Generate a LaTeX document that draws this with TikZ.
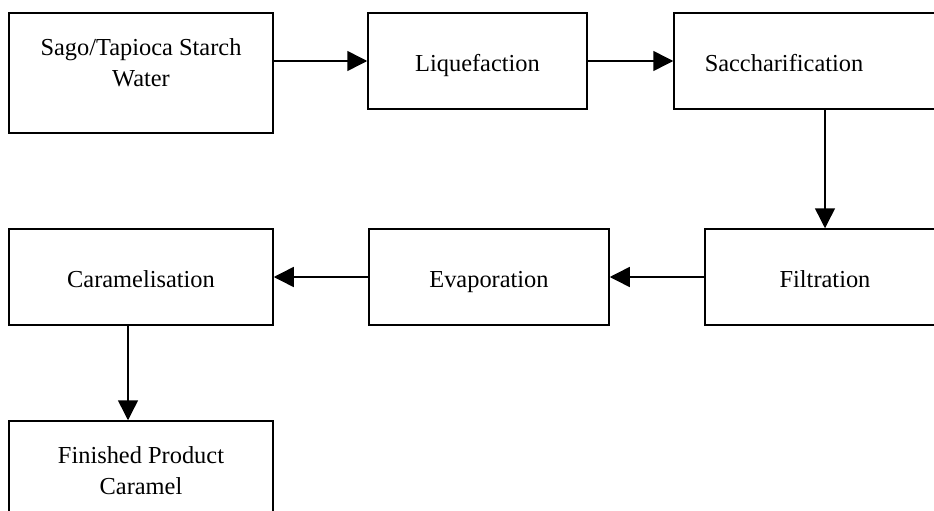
\documentclass[tikz,border=0pt]{standalone}
\usepackage{fontspec}
\setmainfont{Liberation Serif}
\usetikzlibrary{arrows.meta}

\begin{document}
\begin{tikzpicture}[x=1pt,y=-1pt,
  box/.style={draw,line width=1.5pt,shape=rectangle,inner sep=0pt},
  txt/.style={font=\fontsize{24.4}{31}\selectfont,align=center,inner sep=0pt},
  one/.style={text height=21pt,text depth=0pt},
  flow/.style={line width=1.5pt,-{Triangle[length=20pt,width=20pt]}}]

  \clip (0,0) rectangle (934,511);
  \fill[white] (0,0) rectangle (934,511);

  % top row
  \node[box,minimum width=264,minimum height=120] (src) at (141,73) {};
  \node[txt,anchor=north] (srct) at (141,38.5) {Sago/Tapioca Starch\\Water};
  \node[box,txt,one,minimum width=219,minimum height=96] (liq) at (477.5,61) {Liquefaction};
  \node[box,minimum width=302,minimum height=96] (sac) at (825,61) {};
  \node[txt,one] (sact) at (784,61) {Saccharification};

  % middle row
  \node[box,txt,one,minimum width=240,minimum height=96] (filt) at (825,277) {Filtration};
  \node[box,txt,one,minimum width=240,minimum height=96] (evap) at (489,277) {Evaporation};
  \node[box,txt,one,minimum width=264,minimum height=96] (car) at (141,277) {Caramelisation};

  % bottom row
  \node[box,minimum width=264,minimum height=120] (fin) at (141,481) {};
  \node[txt,anchor=north] (fint) at (141,446.5) {Finished Product\\Caramel};

  \draw[flow] (src.east |- liq.west) -- (liq.west);
  \draw[flow] (liq.east) -- (sac.west |- liq.east);
  \draw[flow] (filt.north |- sac.south) -- (filt.north);
  \draw[flow] (filt.west) -- (evap.east);
  \draw[flow] (evap.west) -- (car.east);
  \draw[flow] ([xshift=-13]car.south) -- ([xshift=-13]fin.north);

\end{tikzpicture}
\end{document}
